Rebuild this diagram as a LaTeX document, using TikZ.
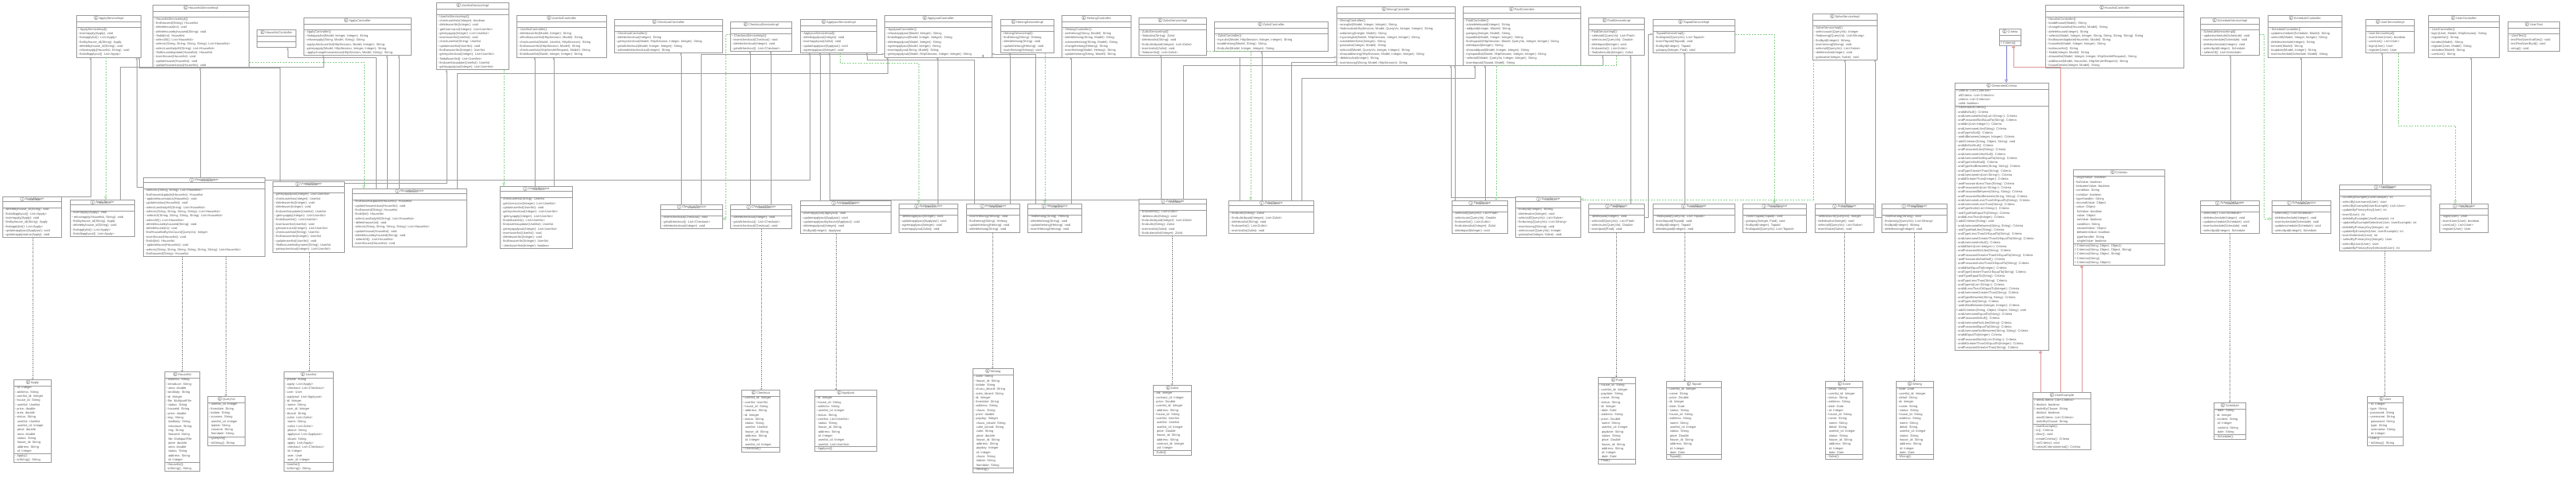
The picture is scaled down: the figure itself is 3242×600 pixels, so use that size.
\documentclass[tikz,border=0pt]{standalone}
\usepackage{fontspec}
\setmainfont{Liberation Sans}
\newfontfamily\iconfont{DejaVu Sans}
\usetikzlibrary{shapes.multipart,arrows.meta}

\definecolor{boxgray}{HTML}{9C9C9C}
\definecolor{txtgray}{HTML}{5E5E5E}
\definecolor{linegray}{HTML}{A0A0A0}
\definecolor{depgray}{HTML}{8A8A8A}
\definecolor{realgreen}{HTML}{8CD08C}
\definecolor{inhblue}{HTML}{8080D8}
\definecolor{nestred}{HTML}{DA9A9A}

\newcommand{\umlfont}{\fontsize{4}{5.3}\selectfont}
\newcommand{\cicon}[1]{\ooalign{$\vcenter{\hbox{\iconfont\fontsize{6.6}{6.6}\selectfont ○}}$\cr\hfil$\vcenter{\hbox{\fontsize{3.7}{3.7}\selectfont\bfseries #1}}$\hfil\cr}}
\newcommand{\ctitle}[1]{\cicon{C}\,#1\rule[-1.5pt]{0pt}{5.5pt}}
\newcommand{\ititle}[1]{\cicon{I}\,\begin{tabular}{@{}c@{}}{\fontsize{3.2}{3.6}\selectfont «interface»}\\[-1.8pt]\textit{#1}\end{tabular}}
\newcommand{\vpk}{\textasciitilde\,}
\newcommand{\idt}{\hspace*{3pt}}

\tikzset{
  aggtip/.tip={Diamond[open,length=3.6pt,width=2.6pt]},
  realtip/.tip={Triangle[open,length=3.6pt,width=3.6pt]},
  deptip/.tip={Straight Barb[length=1.4pt,width=2.4pt]},
  inhtip/.tip={Triangle[open,length=4pt,width=4pt]},
  umlclass/.style={rectangle split, rectangle split parts=3, draw=boxgray,
    line width=0.5pt, text=txtgray, font=\umlfont, anchor=north west,
    align=left, inner xsep=1.5pt, inner ysep=0.8pt, fill=white,
    rectangle split part align={center,left,left},
    rectangle split empty part height=0pt, rectangle split empty part depth=0pt,
    rectangle split empty part width=0pt},
  agg/.style={draw=linegray, line width=0.5pt, aggtip-},
  real/.style={draw=realgreen, line width=0.5pt, dash pattern=on 2pt off 1.5pt, -realtip},
  dep/.style={draw=depgray, line width=0.4pt, dash pattern=on 1.5pt off 1pt, -deptip},
  inh/.style={draw=inhblue, line width=0.6pt, -inhtip},
  nest/.style={draw=nestred, line width=0.6pt},
  nestmark/.style={circle, draw=nestred, line width=0.5pt, fill=white, inner sep=0pt,
    minimum size=3.6pt, anchor=north,
    path picture={\draw[nestred, line width=0.45pt]
      (path picture bounding box.north) -- (path picture bounding box.south)
      (path picture bounding box.west) -- (path picture bounding box.east);}}
}

\begin{document}
\begin{tikzpicture}[x=1pt,y=-1pt]
  \useasboundingbox (0,0) rectangle (3242,600);

  \begin{scope}[every node/.style={umlclass}]
    % controllers and service implementations
    \node[minimum width=81] (ApplyServiceImpl) at (96,19) {\ctitle{ApplyServiceImpl}\nodepart{two}\nodepart{three}\vpk ApplyServiceImpl():\\◦ insertapply(Apply): void\\◦ findapplylist(): List<Apply>\\◦ findbyhouse\_id(String): Apply\\◦ deletebyhouse\_id(String): void\\◦ refuseapply(Houselist, String): void\\◦ findallapplyout(): List<Apply>};
    \node[minimum width=121] (HouselistServiceImpl) at (192,6) {\ctitle{HouselistServiceImpl}\nodepart{two}\nodepart{three}◦ HouselistServiceImpl():\\◦ findhouseid(String): Houselist\\◦ deletehouse(int): void\\◦ deletehousebyhouseid(String): void\\\vpk findid(int): Houselist\\◦ selectAll(): List<Houselist>\\◦ selects(String, String, String, String): List<Houselist>\\◦ selectLandladyAll(String): List<Houselist>\\\vpk findhouseidupdate(Houselist): Houselist\\◦ inserthouse(Houselist): void\\◦ updatehouse(Houselist): void\\◦ updatehousestatus(Houselist): void};
    \node[minimum width=49] (HouselistController) at (323,37) {\ctitle{HouselistController}\nodepart{two}\nodepart{three}};
    \node[minimum width=135] (ApplyController) at (382,22) {\ctitle{ApplyController}\nodepart{two}\nodepart{three}◦ ApplyController():\\\vpk findapplylist(Model, Integer, Integer): String\\◦ refuseapply(String, Model, String): String\\◦ applycheckuserlist(HttpSession, Model, Integer): String\\◦ getmyapply(Model, HttpSession, Integer, Integer): String\\\vpk applychangehousestatus(HttpSession, Model, String): String};
    \node[minimum width=91] (UserlistServiceImpl) at (549,3) {\ctitle{UserlistServiceImpl}\nodepart{two}\nodepart{three}◦ UserlistServiceImpl():\\◦ checkuserlists(Integer): boolean\\◦ deleteuserlist(Integer): void\\\vpk getUserzuList(Integer): List<Userlist>\\◦ getmyapply(Integer): List<Userlist>\\◦ insertuserlist(Userlist): void\\◦ checkuserlist(String): Userlist\\◦ updateuserlist(Userlist): void\\◦ findhasuserlist(Integer): Userlist\\◦ getmycheckout(Integer): List<Userlist>\\\vpk findalluserlist(): List<Userlist>\\◦ finduserlistupdate(Userlist): Userlist\\◦ getmyapplyout(Integer): List<Userlist>};
    \node[minimum width=113] (UserlistController) at (650,19) {\ctitle{UserlistController}\nodepart{two}\nodepart{three}\vpk UserlistController():\\◦ deleteuserlist(Model, Integer): String\\◦ alfindhasuserlist(HttpSession, Model): String\\◦ checkuserlist(Model, Userlist, HttpSession): String\\◦ findhasuserlist(HttpSession, Model): String\\◦ checkuserlists(HttpServletRequest, Model): String\\◦ findalluserlist(Model, Integer, Integer): String};
    \node[minimum width=136] (CheckoutController) at (773,24) {\ctitle{CheckoutController}\nodepart{two}\nodepart{three}◦ CheckoutController():\\◦ deletecheckout(Integer): String\\◦ getmycheckout(Model, HttpSession, Integer, Integer): String\\◦ getallcheckout(Model, Integer, Integer): String\\◦ admindeletecheckout(Integer): String};
    \node[minimum width=77] (CheckoutServiceImpl) at (919,27) {\ctitle{CheckoutServiceImpl}\nodepart{two}\nodepart{three}\vpk CheckoutServiceImpl():\\◦ insertcheckout(Checkout): void\\◦ deletecheckout(Integer): void\\◦ getallcheckout(): List<Checkout>};
    \node[minimum width=96] (ApplyoutServiceImpl) at (1007,24) {\ctitle{ApplyoutServiceImpl}\nodepart{two}\nodepart{three}◦ ApplyoutServiceImpl():\\◦ deleteapplyout(Integer): void\\◦ insertapplyout(Zulist): void\\◦ updateapplyout(Applyout): void\\◦ agreeapplyout(Integer): void};
    \node[minimum width=135] (ApplyoutController) at (1113,19) {\ctitle{ApplyoutController}\nodepart{two}\nodepart{three}\vpk ApplyoutController():\\◦ refuseapplyout(Model, Integer): String\\◦ findallapplyout(Model, Integer, Integer): String\\◦ deleteapplyout(Model, Integer): String\\◦ agreeapplyout(Model, Integer): String\\◦ insertapplyout(String, Model): String\\◦ getmyapplyout(Model, HttpSession, Integer, Integer): String};
    \node[minimum width=67] (HetongServiceImpl) at (1259,24) {\ctitle{HetongServiceImpl}\nodepart{two}\nodepart{three}◦ HetongServiceImpl():\\◦ findhetong(String): Hetong\\◦ deletehetong(String): void\\◦ updatehetong(Hetong): void\\◦ inserthetong(Hetong): void};
    \node[minimum width=87] (HetongController) at (1336,19) {\ctitle{HetongController}\nodepart{two}\nodepart{three}\vpk HetongController():\\◦ seehetong(String, Model): String\\◦ deletehetong(String, Model): String\\◦ zukeseehetong(String, Model): String\\◦ changehetong(Hetong): String\\◦ inserthetong(Model, Hetong): String\\◦ updatehetong(String, Model): String};
    \node[minimum width=85] (ZulistServiceImpl) at (1433,22) {\ctitle{ZulistServiceImpl}\nodepart{two}\nodepart{three}◦ ZulistServiceImpl():\\\vpk findzulist(String): Zulist\\◦ deletezulist(String): void\\◦ findzulistbyuid(Integer): List<Zulist>\\◦ insertzulist(Zulist): void\\\vpk finduserlist(): List<Zulist>};
    \node[minimum width=143] (ZulistController) at (1528,27) {\ctitle{ZulistController}\nodepart{two}\nodepart{three}\vpk ZulistController():\\◦ myzulist(Model, HttpSession, Integer, Integer): String\\◦ toaddhetong(Model, String): String\\◦ findzulist(Model, Integer, Integer): String};
    \node[minimum width=149] (WrongController) at (1682,8) {\ctitle{WrongController}\nodepart{two}\nodepart{three}◦ WrongController():\\◦ wronglist(Model, Integer, Integer): String\\\vpk findresolve(HttpSession, Model, QueryVo, Integer, Integer): String\\◦ addwrong(Integer, Model): String\\◦ mywronglist(Model, HttpSession, Integer, Integer): String\\◦ zukedeleteSolve(Integer): String\\◦ gotosolve(Integer, Model): String\\◦ selectall(Model, QueryVo, Integer, Integer): String\\◦ showaddwrong(HttpSession, Model, Integer, Integer): String\\\vpk deletesolve(Integer): String\\◦ insertwrong(Wrong, Model, HttpSession): String};
    \node[minimum width=148] (PaidController) at (1841,8) {\ctitle{PaidController}\nodepart{two}\nodepart{three}◦ PaidController():\\◦ zukedeletepaid(Integer): String\\\vpk addpaid(Integer, Model): String\\◦ gotopay(Integer, Model): String\\◦ topaidlist(Model, Integer, Integer): String\\◦ findmypaid(HttpSession, Model, QueryVo, Integer, Integer): String\\◦ deletepaid(Integer): String\\◦ showaddpaid(Model, Integer, Integer): String\\◦ mytopaidlist(Model, HttpSession, Integer, Integer): String\\\vpk selectall(Model, QueryVo, Integer, Integer): String\\◦ inserttopaid(Topaid, Model): String};
    \node[minimum width=70] (PaidServiceImpl) at (1999,22) {\ctitle{PaidServiceImpl}\nodepart{two}\nodepart{three}◦ PaidServiceImpl():\\\vpk selectall(QueryVo): List<Paid>\\◦ selectsum(QueryVo): Double\\◦ deletepaid(Integer): void\\◦ finduserlist(): List<Zulist>\\\vpk findzukezulist(Integer): Zulist};
    \node[minimum width=103] (TopaidServiceImpl) at (2080,24) {\ctitle{TopaidServiceImpl}\nodepart{two}\nodepart{three}◦ TopaidServiceImpl():\\◦ findtopaid(QueryVo): List<Topaid>\\◦ insertTopaid(Topaid): void\\◦ findbyid(Integer): Topaid\\◦ gotopay(Integer, Paid): void};
    \node[minimum width=81] (SolveServiceImpl) at (2281,17) {\ctitle{SolveServiceImpl}\nodepart{two}\nodepart{three}◦ SolveServiceImpl():\\◦ selectcount(QueryVo): Integer\\\vpk findwrong(QueryVo): List<Wrong>\\◦ findbyid(Integer): Wrong\\◦ insertwrong(Wrong): void\\◦ selectall(QueryVo): List<Solve>\\\vpk deletesolve(Integer): void\\◦ gotosolve(Integer, Solve): void};
    \node[minimum width=27] (Criteria) at (2516,36) {\ctitle{Criteria}\nodepart{two}\nodepart{three}◊ Criteria():};
    \node[minimum width=174] (HouslistController) at (2574,6) {\ctitle{HouslistController}\nodepart{two}\nodepart{three}◦ HouslistController():\\◦ toaddhouse(Model): String\\◦ changehouselist(Houselist, Model): String\\◦ deletehouse(Integer): String\\\vpk selects(Model, Integer, Integer, String, String, String, String): String\\◦ findhouseidupdate(Houselist, Model): String\\◦ houselist(Model, Integer, Integer): String\\◦ toahouselist(): String\\\vpk findid(Integer, Model): String\\◦ ahouselist(Model, Integer, Integer, HttpServletRequest): String\\◦ addhouse(Model, Houselist, HttpServletRequest): String\\◦ houseDetails(Integer, Model): String};
    \node[minimum width=74] (ScheduleServiceImpl) at (2769,22) {\ctitle{ScheduleServiceImpl}\nodepart{two}\nodepart{three}◦ ScheduleServiceImpl():\\\vpk updateschedule(Schedule): void\\◦ insertschedule(Schedule): void\\◦ deleteschedule(Integer): void\\◦ selectbyid(Integer): Schedule\\\vpk selectAll(): List<Schedule>};
    \node[minimum width=93] (ScheduleController) at (2854,19) {\ctitle{ScheduleController}\nodepart{two}\nodepart{three}\vpk ScheduleController()\\◦ updateschedule(Schedule, Model): String\\◦ selectAll(Model, Integer, Integer): String\\◦ deleteschedule(Integer): String\\◦ toinsert(Model): String\\◦ toupdate(Model, Integer): String\\◦ insertschedule(Schedule, Model): String};
    \node[minimum width=61] (UserServiceImpl) at (2977,24) {\ctitle{UserServiceImpl}\nodepart{two}\nodepart{three}◦ UserServiceImpl():\\◦ insertUser(User): boolean\\◦ userList(): List<User>\\◦ login(User): User\\◦ register(User): User};
    \node[minimum width=89] (UserController) at (3056,19) {\ctitle{UserController}\nodepart{two}\nodepart{three}\vpk UserController():\\◦ login(User, Model, HttpSession): String\\◦ registerlist(): String\\◦ toindex(Model): String\\◦ register(User, Model): String\\◦ atoindex(Model): String\\◦ userList(): String};
    \node[minimum width=65] (UserTest) at (3156,27) {\ctitle{UserTest}\nodepart{two}\nodepart{three}\vpk UserTest():\\◦ testFindUserAndSex(): void\\◦ testFindUserById(): void\\◦ setup(): void};

    % example criteria
    \node[minimum width=118] (GeneratedCriteria) at (2460,104) {\ctitle{GeneratedCriteria}\nodepart{two}◊ criteria: List<Criterion>\\\idt allCriteria: List<Criterion>\\\idt criteria: List<Criterion>\\\idt valid: boolean\nodepart{three}◊ GeneratedCriteria():\\◦ andIdIsNull(): Criteria\\◦ andUsernameNotIn(List<String>): Criteria\\◦ andPasswordNotEqualTo(String): Criteria\\◦ andIdIn(List<Integer>): Criteria\\◦ andUsernameLike(String): Criteria\\◦ andTypeIsNull(): Criteria\\\vpk andIdBetween(Integer, Integer): Criteria\\◊ addCriterion(String, Object, String): void\\◦ andIdIsNotNull(): Criteria\\◦ andPasswordLike(String): Criteria\\◦ andUsernameIsNotNull(): Criteria\\◦ andUsernameNotEqualTo(String): Criteria\\◦ andTypeIsNotNull(): Criteria\\◦ andTypeNotBetween(String, String): Criteria\\◦ andTypeGreaterThan(String): Criteria\\◦ andUsernameIn(List<String>): Criteria\\◦ andIdGreaterThan(Integer): Criteria\\\vpk andPasswordLessThan(String): Criteria\\◦ andPasswordIn(List<String>): Criteria\\◦ andPasswordBetween(String, String): Criteria\\◦ andPasswordNotBetween(String, String): Criteria\\◦ andUsernameLessThanOrEqualTo(String): Criteria\\◦ andUsernameLessThan(String): Criteria\\◦ andTypeNotIn(List<String>): Criteria\\\vpk andTypeNotEqualTo(String): Criteria\\◦ andIdLessThan(Integer): Criteria\\◊ addCriterion(String): void\\◦ andUsernameBetween(String, String): Criteria\\\vpk andTypeNotLike(String): Criteria\\◦ andTypeLessThanOrEqualTo(String): Criteria\\◦ andUsernameGreaterThanOrEqualTo(String): Criteria\\◦ andUsernameIsNull(): Criteria\\◦ andIdNotIn(List<Integer>): Criteria\\◦ andPasswordNotLike(String): Criteria\\◦ andPasswordGreaterThanOrEqualTo(String): Criteria\\\vpk andPasswordIsNotNull(): Criteria\\◦ andPasswordLessThanOrEqualTo(String): Criteria\\◦ andIdNotEqualTo(Integer): Criteria\\◦ andTypeGreaterThanOrEqualTo(String): Criteria\\\vpk andTypeEqualTo(String): Criteria\\◦ andTypeLessThan(String): Criteria\\◦ andTypeIn(List<String>): Criteria\\◦ andIdLessThanOrEqualTo(Integer): Criteria\\◦ andUsernameGreaterThan(String): Criteria\\◦ andTypeBetween(String, String): Criteria\\◦ andTypeLike(String): Criteria\\\vpk andIdNotBetween(Integer, Integer): Criteria\\◊ addCriterion(String, Object, Object, String): void\\◦ andUsernameEqualTo(String): Criteria\\◦ andPasswordIsNull(): Criteria\\◦ andUsernameNotLike(String): Criteria\\◦ andPasswordEqualTo(String): Criteria\\◦ andUsernameNotBetween(String, String): Criteria\\◦ andIdEqualTo(Integer): Criteria\\◦ andPasswordNotIn(List<String>): Criteria\\◦ andIdGreaterThanOrEqualTo(Integer): Criteria\\◦ andPasswordGreaterThan(String): Criteria};
    \node[minimum width=115] (Criterion) at (2609,213) {\ctitle{Criterion}\nodepart{two}▫ singleValue: boolean\\▫ listValue: boolean\\▫ betweenValue: boolean\\▫ condition: String\\▫ noValue: boolean\\▫ typeHandler: String\\▫ secondValue: Object\\▫ value: Object\\\idt listValue: boolean\\\idt value: Object\\\idt noValue: boolean\\\idt condition: String\\\idt secondValue: Object\\\idt betweenValue: boolean\\\idt typeHandler: String\\\idt singleValue: boolean\nodepart{three}◊ Criterion(String, Object, Object):\\◊ Criterion(String, Object, Object, String):\\◊ Criterion(String, Object, String):\\◊ Criterion(String):\\◊ Criterion(String, Object):};
    \node[minimum width=73] (UserExample) at (2558,493) {\ctitle{UserExample}\nodepart{two}◊ oredCriteria: List<Criteria>\\◊ distinct: boolean\\◊ orderByClause: String\\\idt distinct: boolean\\\idt oredCriteria: List<Criteria>\\\idt orderByClause: String\nodepart{three}◦ UserExample():\\◦ or(): Criteria\\◦ clear(): void\\◦ createCriteria(): Criteria\\\vpk or(Criteria): void\\◊ createCriteriaInternal(): Criteria};

    % mapper and service interfaces
    \node[minimum width=74] (ApplyMapper) at (3,247) {\ititle{ApplyMapper}\nodepart{two}\nodepart{three}◦ deletebyhouse\_id(String): void\\◦ findallapplyout(): List<Apply>\\◦ insertapply(Apply): void\\◦ findbyhouse\_id(String): Apply\\◦ findapplylist(): List<Apply>\\◦ updateapplyout(Applyout): void\\◦ updateapplystatus(Apply): void};
    \node[minimum width=81] (ApplyService) at (88,251) {\ititle{ApplyService}\nodepart{two}\nodepart{three}◦ insertapply(Apply): void\\\vpk refuseapply(Houselist, String): void\\◦ findbyhouse\_id(String): Apply\\◦ deletebyhouse\_id(String): void\\◦ findapplylist(): List<Apply>\\◦ findallapplyout(): List<Apply>};
    \node[minimum width=153] (HouselistMapper) at (180,223) {\ititle{HouselistMapper}\nodepart{two}\nodepart{three}◦ selects1(String, String): List<Houselist>\\◦ findhouseidupdate(Houselist): Houselist\\\vpk updatehousestatus(Houselist): void\\◦ updatestatus(Houselist): void\\◦ selectLandladyAll(String): List<Houselist>\\◦ selects(String, String, String, String): List<Houselist>\\\vpk selects3(String, String, String, String): List<Houselist>\\◦ selectAll(): List<Houselist>\\◦ deletehousebyhouseid(String): void\\◦ deletehouse(int): void\\◦ findHouselistByVisCount(QueryVo): Integer\\◦ inserthouse(Houselist): void\\◦ findid(int): Houselist\\\vpk updatehouse(Houselist): void\\◦ selects(String, String, String, String, String, String): List<Houselist>\\◦ findhouseid(String): Houselist};
    \node[minimum width=90] (UserlistMapper) at (343,228) {\ititle{UserlistMapper}\nodepart{two}\nodepart{three}◦ getmyapplyout(Integer): List<Userlist>\\◦ checkuserlists(Integer): Userlist\\◦ deleteuserlist(Integer): void\\◦ deleteuser(Integer): void\\◦ finduserlistupdate(Userlist): Userlist\\\vpk getmyapply(Integer): List<Userlist>\\◦ findalluserlist(): List<Userlist>\\◦ insertuserlist(Userlist): void\\◦ getuserzuList(Integer): List<Userlist>\\◦ checkuserlistd(String): Userlist\\◦ findhasuserlist(Integer): Userlist\\◦ updateuserlist(Userlist): void\\\vpk findhasuserlistbyname(String): Userlist\\◦ getmycheckout(Integer): List<Userlist>};
    \node[minimum width=144] (HouselistService) at (443,237) {\ititle{HouselistService}\nodepart{two}\nodepart{three}◦ findhouseidupdate(Houselist): Houselist\\◦ updatehousestatus(Houselist): void\\◦ findhouseid(String): Houselist\\◦ findid(int): Houselist\\◦ selectLandladyAll(String): List<Houselist>\\\vpk deletehouse(int): void\\◦ selects(String, String, String, String): List<Houselist>\\◦ updatehouse(Houselist): void\\◦ deletehousebyhouseid(String): void\\\vpk selectAll(): List<Houselist>\\◦ inserthouse(Houselist): void};
    \node[minimum width=91] (UserlistService) at (629,234) {\ititle{UserlistService}\nodepart{two}\nodepart{three}◦ checkuserlist(String): Userlist\\◦ getUserzuList(Integer): List<Userlist>\\◦ updateuserlist(Userlist): void\\◦ getmycheckout(Integer): List<Userlist>\\\vpk getmyapply(Integer): List<Userlist>\\◦ findalluserlist(): List<Userlist>\\◦ finduserlistupdate(Userlist): Userlist\\◦ getmyapplyout(Integer): List<Userlist>\\◦ insertuserlist(Userlist): void\\◦ deleteuserlist(Integer): void\\◦ findhasuserlist(Integer): Userlist\\\vpk checkuserlists(Integer): boolean};
    \node[minimum width=78] (CheckoutService) at (831,257) {\ititle{CheckoutService}\nodepart{two}\nodepart{three}◦ insertcheckout(Checkout): void\\◦ getallcheckout(): List<Checkout>\\◦ deletecheckout(Integer): void};
    \node[minimum width=77] (CheckoutMapper) at (919,257) {\ititle{CheckoutMapper}\nodepart{two}\nodepart{three}◦ deletecheckout(Integer): void\\◦ getallcheckout(): List<Checkout>\\◦ insertcheckout(Checkout): void};
    \node[minimum width=114] (ApplyoutMapper) at (1007,252) {\ititle{ApplyoutMapper}\nodepart{two}\nodepart{three}◦ insertapplyout(Applyout): void\\◦ updateapplyout(Applyout): void\\◦ updateapplyoutbyhouse(Applyout): void\\◦ deleteapplyout(Integer): void\\◦ findbyid(Integer): Applyout};
    \node[minimum width=74] (ApplyoutService) at (1131,256) {\ititle{ApplyoutService}\nodepart{two}\nodepart{three}\vpk deleteapplyout(Integer): void\\◦ updateapplyout(Applyout): void\\◦ agreeapplyout(Integer): void\\◦ insertapplyout(Zulist): void};
    \node[minimum width=67] (HetongMapper) at (1216,256) {\ititle{HetongMapper}\nodepart{two}\nodepart{three}◦ insertHetong(Hetong): void\\◦ findhetong(String): Hetong\\◦ updatehetong(Hetong): void\\◦ deletehetong(String): void};
    \node[minimum width=68] (HetongService) at (1293,256) {\ititle{HetongService}\nodepart{two}\nodepart{three}\vpk findhetong(String): Hetong\\◦ deletehetong(String): void\\◦ updatehetong(Hetong): void\\◦ insertHetong(Hetong): void};
    \node[minimum width=85] (ZulistMapper) at (1433,250) {\ititle{ZulistMapper}\nodepart{two}\nodepart{three}◦ finduserlist(): List<Zulist>\\\vpk deletezulist(String): void\\◦ findzulistbyuid(Integer): List<Zulist>\\◦ findzulist(String): Zulist\\◦ insertzulist(Zulist): void\\◦ findzukezulist(Integer): Zulist};
    \node[minimum width=107] (ZulistService) at (1546,252) {\ititle{ZulistService}\nodepart{two}\nodepart{three}◦ findzulist(String): Zulist\\◦ findzulistbyuid(Integer): List<Zulist>\\◦ deletezulist(String): void\\◦ finduserlist(): List<Zulist>\\◦ insertzulist(Zulist): void};
    \node[minimum width=70] (PaidService) at (1827,252) {\ititle{PaidService}\nodepart{two}\nodepart{three}◦ selectall(QueryVo): List<Paid>\\◦ selectsum(QueryVo): Double\\◦ finduserlist(): List<Zulist>\\◦ findzukezulist(Integer): Zulist\\◦ deletepaid(Integer): void};
    \node[minimum width=82] (SolveService) at (1907,247) {\ititle{SolveService}\nodepart{two}\nodepart{three}◦ findbyid(Integer): Wrong\\◦ deletesolve(Integer): void\\◦ selectall(QueryVo): List<Solve>\\◦ findwrong(QueryVo): List<Wrong>\\◦ insertwrong(Wrong): void\\◦ selectcount(QueryVo): Integer\\◦ gotosolve(Integer, Solve): void};
    \node[minimum width=70] (PaidMapper) at (1999,256) {\ititle{PaidMapper}\nodepart{two}\nodepart{three}\vpk deletepaid(Integer): void\\◦ selectall(QueryVo): List<Paid>\\◦ selectsum(QueryVo): Double\\◦ insertpaid(Paid): void};
    \node[minimum width=103] (TopaidMapper) at (2080,256) {\ititle{TopaidMapper}\nodepart{two}\nodepart{three}\vpk findtopaid(QueryVo): List<Topaid>\\◦ inserttopaid(Topaid): void\\◦ findbyid(Integer): Topaid\\◦ deletetopaid(Integer): void};
    \node[minimum width=80] (TopaidService) at (2193,256) {\ititle{TopaidService}\nodepart{two}\nodepart{three}\vpk insertTopaid(Topaid): void\\◦ gotopay(Integer, Paid): void\\◦ findbyid(Integer): Topaid\\◦ findtopaid(QueryVo): List<Topaid>};
    \node[minimum width=74] (SolveMapper) at (2284,256) {\ititle{SolveMapper}\nodepart{two}\nodepart{three}\vpk selectcount(QueryVo): Integer\\◦ deletesolve(Integer): void\\◦ selectall(QueryVo): List<Solve>\\◦ insertSolve(Solve): void};
    \node[minimum width=82] (WrongMapper) at (2368,256) {\ititle{WrongMapper}\nodepart{two}\nodepart{three}\vpk insertwrong(Wrong): void\\◦ findwrong(QueryVo): List<Wrong>\\◦ findbyid(Integer): Wrong\\◦ deletewrong(Integer): void};
    \node[minimum width=74] (ScheduleMapper) at (2769,252) {\ititle{ScheduleMapper}\nodepart{two}\nodepart{three}◦ selectAll(): List<Schedule>\\◦ deleteschedule(Integer): void\\◦ updateschedule(Schedule): void\\◦ insertschedule(Schedule): void\\◦ selectbyid(Integer): Schedule};
    \node[minimum width=74] (ScheduleService) at (2859,252) {\ititle{ScheduleService}\nodepart{two}\nodepart{three}◦ selectAll(): List<Schedule>\\◦ deleteschedule(Integer): void\\◦ insertschedule(Schedule): void\\◦ updateschedule(Schedule): void\\◦ selectbyid(Integer): Schedule};
    \node[minimum width=115] (UserMapper) at (2944,232) {\ititle{UserMapper}\nodepart{two}\nodepart{three}◦ countByExample(UserExample): int\\◦ selectByUsername(User): User\\◦ selectByExample(UserExample): List<User>\\◦ updateByPrimaryKey(User): int\\◦ insert(User): int\\◦ deleteByExample(UserExample): int\\\vpk updateByExampleSelective(User, UserExample): int\\◦ deleteByPrimaryKey(Integer): int\\◦ updateByExample(User, UserExample): int\\◦ insertSelective(User): int\\\vpk selectByPrimaryKey(Integer): User\\◦ selectByUser(User): User\\◦ updateByPrimaryKeySelective(User): int};
    \node[minimum width=61] (UserService) at (3070,256) {\ititle{UserService}\nodepart{two}\nodepart{three}\vpk login(User): User\\◦ insertUser(User): boolean\\◦ userList(): List<User>\\◦ register(User): User};

    % entities
    \node[minimum width=47] (Apply) at (17,477) {\ctitle{Apply}\nodepart{two}\vpk id: Integer\\▫ address: String\\▫ userlist\_id: Integer\\▫ house\_id: String\\\vpk userlist: Userlist\\▫ price: double\\▫ area: double\\▫ status: String\\\idt userlist: Userlist\\\idt userlist\_id: Integer\\\idt price: double\\\idt area: double\\\idt status: String\\\idt house\_id: String\\\idt address: String\\\idt id: Integer\nodepart{three}◦ Apply():\\◦ toString(): String};
    \node[minimum width=44] (Houselist) at (207,467) {\ctitle{Houselist}\nodepart{two}▫ address: String\\▫ introduce: String\\\vpk area: double\\▫ landlady: String\\▫ id: Integer\\▫ file: MultipartFile\\\vpk status: String\\▫ houseid: String\\▫ price: double\\▫ img: String\\\idt landlady: String\\\idt introduce: String\\\idt img: String\\\idt houseid: String\\\idt file: MultipartFile\\\idt price: double\\\idt area: double\\\idt status: String\\\idt address: String\\\idt id: Integer\nodepart{three}◦ Houselist():\\◦ toString(): String};
    \node[minimum width=47] (QueryVo) at (261,498) {\ctitle{QueryVo}\nodepart{two}\vpk userlist\_id: Integer\\▫ fromdate: String\\▫ todate: String\\▫ zuname: String\\\idt userlist\_id: Integer\\\idt todate: String\\\idt zuname: String\\\idt fromdate: String\nodepart{three}◦ QueryVo():\\\vpk toString(): String};
    \node[minimum width=62] (Userlist) at (357,467) {\ctitle{Userlist}\nodepart{two}▫ phone: String\\▫ apply: List<Apply>\\\vpk checkout: List<Checkout>\\▫ user: User\\▫ applyout: List<Applyout>\\▫ id: Integer\\\vpk name: String\\▫ user\_id: Integer\\▫ idcard: String\\▫ zulist: List<Zulist>\\\idt name: String\\\idt zulist: List<Zulist>\\\idt phone: String\\\idt applyout: List<Applyout>\\\idt idcard: String\\\idt apply: List<Apply>\\\idt checkout: List<Checkout>\\\idt id: Integer\\\idt user: User\\\idt user\_id: Integer\nodepart{three}◦ Userlist():\\◦ toString(): String};
    \node[minimum width=48] (Checkout) at (933,490) {\ctitle{Checkout}\nodepart{two}▫ userlist\_id: Integer\\▫ userlist: Userlist\\▫ house\_id: String\\\vpk address: String\\▫ id: Integer\\▫ status: String\\\idt status: String\\\idt userlist: Userlist\\\idt house\_id: String\\\idt address: String\\\idt id: Integer\\\idt userlist\_id: Integer\nodepart{three}◦ Checkout():};
    \node[minimum width=78] (Applyout) at (1025,490) {\ctitle{Applyout}\nodepart{two}▫ id: Integer\\▫ house\_id: String\\▫ address: String\\\vpk userlist\_id: Integer\\▫ status: String\\▫ userlist: List<Userlist>\\\idt status: String\\\idt house\_id: String\\\idt address: String\\\idt id: Integer\\\idt userlist\_id: Integer\\\idt userlist: List<Userlist>\nodepart{three}◦ Applyout():};
    \node[minimum width=51] (Hetong) at (1224,463) {\ctitle{Hetong}\nodepart{two}▫ zuke: String\\\vpk house\_id: String\\▫ todate: String\\▫ chuzu\_idcard: String\\▫ zuke\_idcard: String\\▫ id: Integer\\▫ fromdate: String\\▫ address: String\\\vpk chuzu: String\\▫ price: double\\▫ payday: Integer\\\idt chuzu\_idcard: String\\\idt zuke\_idcard: String\\\idt zuke: String\\\idt price: double\\\idt house\_id: String\\\idt address: String\\\idt payday: Integer\\\idt id: Integer\\\idt chuzu: String\\\idt todate: String\\\idt fromdate: String\nodepart{three}◦ Hetong():};
    \node[minimum width=48] (Zulist) at (1451,484) {\ctitle{Zulist}\nodepart{two}▫ zid: Integer\\▫ contract\_id: Integer\\▫ price: Double\\▫ userlist\_id: Integer\\\vpk address: String\\▫ house\_id: String\\▫ userlist: Userlist\\\idt userlist: Userlist\\\idt userlist\_id: Integer\\\idt price: Double\\\idt house\_id: String\\\idt address: String\\\idt contract\_id: Integer\\\idt zid: Integer\nodepart{three}◦ Zulist():};
    \node[minimum width=47] (Paid) at (2011,474) {\ctitle{Paid}\nodepart{two}▫ house\_id: String\\▫ userlist\_id: Integer\\▫ paydate: String\\▫ name: String\\▫ status: String\\▫ id: Integer\\\vpk date: Date\\▫ address: String\\▫ price: Double\\\idt name: String\\\idt userlist\_id: Integer\\\idt paydate: String\\\idt status: String\\\idt price: Double\\\idt house\_id: String\\\idt address: String\\\idt id: Integer\\\idt date: Date\nodepart{three}◦ Paid():};
    \node[minimum width=69] (Topaid) at (2097,479) {\ctitle{Topaid}\nodepart{two}▫ userlist\_id: Integer\\▫ name: String\\▫ price: Double\\▫ id: Integer\\▫ date: Date\\\vpk status: String\\▫ house\_id: String\\▫ address: String\\\idt name: String\\\idt userlist\_id: Integer\\\idt status: String\\\idt price: Double\\\idt house\_id: String\\\idt address: String\\\idt id: Integer\\\idt date: Date\nodepart{three}◦ Topaid():};
    \node[minimum width=47] (Solve) at (2297,479) {\ctitle{Solve}\nodepart{two}▫ detail: String\\▫ userlist\_id: Integer\\▫ status: String\\▫ address: String\\▫ date: Date\\\vpk id: Integer\\▫ house\_id: String\\▫ name: String\\\idt name: String\\\idt detail: String\\\idt userlist\_id: Integer\\\idt status: String\\\idt house\_id: String\\\idt address: String\\\idt id: Integer\\\idt date: Date\nodepart{three}◦ Solve():};
    \node[minimum width=47] (Wrong) at (2386,479) {\ctitle{Wrong}\nodepart{two}▫ date: Date\\▫ userlist\_id: Integer\\▫ detail: String\\▫ id: Integer\\▫ name: String\\\vpk status: String\\▫ house\_id: String\\▫ address: String\\\idt name: String\\\idt detail: String\\\idt userlist\_id: Integer\\\idt status: String\\\idt house\_id: String\\\idt address: String\\\idt id: Integer\\\idt date: Date\nodepart{three}◦ Wrong():};
    \node[minimum width=40] (Schedule) at (2786,506) {\ctitle{Schedule}\nodepart{two}\vpk date: String\\▫ id: Integer\\▫ content: String\\\idt id: Integer\\\idt content: String\\\idt date: String\nodepart{three}\vpk Schedule():};
    \node[minimum width=45] (User) at (2979,498) {\ctitle{User}\nodepart{two}\vpk id: Integer\\▫ type: String\\▫ password: String\\▫ username: String\\\idt password: String\\\idt type: String\\\idt username: String\\\idt id: Integer\nodepart{three}◦ User():\\\vpk toString(): String};
  \end{scope}

  % aggregations
  \draw[agg] (114,0 |- ApplyServiceImpl.south) |- (ApplyMapper.north east);
  \draw[agg] (172,0 |- ApplyServiceImpl.south) |- (HouselistMapper.west |- 0,235);
  \draw[agg] (175,0 |- ApplyServiceImpl.south) -- (175,85) -| (352,0 |- UserlistMapper.north);
  \draw[agg] (252,0 |- HouselistServiceImpl.south) -- (252,0 |- HouselistMapper.north);
  \draw[agg] (362,0 |- HouselistController.south) -- (362,72) -| (473,0 |- HouselistService.north);
  \draw[agg] (407,0 |- ApplyController.south) -- (407,84) -| (151,0 |- ApplyService.north);
  \draw[agg] (487,0 |- ApplyController.south) -- (487,0 |- HouselistService.north);
  \draw[agg] (502,0 |- ApplyController.south) -- (502,0 |- HouselistService.north);
  \draw[agg] (562,0 |- UserlistServiceImpl.south) |- (UserlistMapper.east |- 0,230);
  \draw[agg] (1019,0 |- ApplyoutServiceImpl.south) |- (HouselistMapper.east |- 0,226);
  \draw[agg] (673,0 |- UserlistController.south) -- (673,0 |- UserlistService.north);
  \draw[agg] (697,0 |- UserlistController.south) -- (697,0 |- UserlistService.north);
  \draw[agg] (857,0 |- CheckoutController.south) -- (857,0 |- CheckoutService.north);
  \draw[agg] (ApplyoutController.west |- 0,68) -| (882,0 |- CheckoutService.north);
  \draw[agg] (944,0 |- CheckoutServiceImpl.south) -- (944,0 |- CheckoutMapper.north);
  \draw[agg] (970,0 |- CheckoutServiceImpl.south) -- (970,0 |- CheckoutMapper.north);
  \draw[agg] (1032,0 |- ApplyoutServiceImpl.south) -- (1032,0 |- ApplyoutMapper.north);
  \draw[agg] (1044,0 |- ApplyoutServiceImpl.south) |- (ZulistMapper.west |- 0,251);
  \draw[agg] (1091,0 |- ApplyoutServiceImpl.south) -- (1091,75) -| (1226,0 |- HetongMapper.north);
  \draw[agg] (1117,0 |- ApplyoutController.south) -- (1117,92) -| (575,0 |- HouselistService.north);
  \draw[agg] (1180,0 |- ApplyoutController.south) -- (1180,0 |- ApplyoutService.north);
  \draw[agg] (1237,0 |- ApplyoutController.south) -- (1237,72) -| (1560,0 |- ZulistService.north);
  \draw[agg] (ApplyoutController.east |- 0,68) -| (1303,0 |- HetongService.north);
  \draw[agg] (1271,0 |- HetongServiceImpl.south) -- (1271,0 |- HetongMapper.north);
  \draw[agg] (1348,0 |- HetongController.south) -- (1348,0 |- HetongService.north);
  \draw[agg] (1461,0 |- ZulistServiceImpl.south) -- (1461,0 |- ZulistMapper.north);
  \draw[agg] (1588,0 |- ZulistController.south) -- (1588,0 |- ZulistService.north);
  \draw[agg] (WrongController.west |- 0,72) -| (1560,0 |- ZulistService.north);
  \draw[agg] (WrongController.west |- 0,78) -| (1625,0 |- ZulistService.north);
  \draw[agg] (1826,0 |- WrongController.south) |- (SolveService.west |- 0,248);
  \draw[agg] (1831,0 |- WrongController.south) -- (1831,0 |- PaidService.north);
  \draw[agg] (1856,0 |- PaidController.south) -- (1856,98) -| (1638,0 |- ZulistService.north);
  \draw[agg] (1869,0 |- PaidController.south) -- (1869,0 |- PaidService.north);
  \draw[agg] (2017,0 |- PaidServiceImpl.south) -- (2017,82) -| (1489,0 |- ZulistMapper.north);
  \draw[agg] (2052,0 |- PaidServiceImpl.south) -- (2052,0 |- PaidMapper.north);
  \draw[agg] (TopaidServiceImpl.west |- 0,43) -- (2074,43) |- (PaidMapper.east |- 0,273);
  \draw[agg] (2120,0 |- TopaidServiceImpl.south) -- (2120,0 |- TopaidMapper.north);
  \draw[agg] (2322,0 |- SolveServiceImpl.south) -- (2322,0 |- SolveMapper.north);
  \draw[agg] (2360,0 |- SolveServiceImpl.south) |- (WrongMapper.west |- 0,273);
  \draw[agg] (2807,0 |- ScheduleServiceImpl.south) -- (2807,0 |- ScheduleMapper.north);
  \draw[agg] (2896,0 |- ScheduleController.south) -- (2896,0 |- ScheduleService.north);
  \draw[agg] (2998,0 |- UserServiceImpl.south) -- (2998,0 |- UserMapper.north);
  \draw[agg] (3110,0 |- UserController.south) -- (3110,0 |- UserService.north);

  % realizations
  \draw[real] (133,0 |- ApplyServiceImpl.south) -- (133,0 |- ApplyService.north);
  \draw[real] (HouselistServiceImpl.east |- 0,78) -| (458,0 |- HouselistService.north);
  \draw[real] (634,0 |- UserlistServiceImpl.south) -- (634,0 |- UserlistService.north);
  \draw[real] (CheckoutServiceImpl.west |- 0,43) -- (913,43) |- (CheckoutService.east |- 0,275);
  \draw[real] (1057,0 |- ApplyoutServiceImpl.south) -- (1057,79) -| (1156,0 |- ApplyoutService.north);
  \draw[real] (1315,0 |- HetongServiceImpl.south) -- (1315,0 |- HetongService.north);
  \draw[real] (ZulistServiceImpl.east |- 0,64) -| (1574,0 |- ZulistService.north);
  \draw[real] (2034,0 |- PaidServiceImpl.south) -- (2034,82) -| (1883,0 |- PaidService.north);
  \draw[real] (TopaidServiceImpl.east |- 0,43) -| (2233,0 |- TopaidService.north);
  \draw[real] (2282,0 |- SolveServiceImpl.south) |- (SolveService.east |- 0,251);
  \draw[real] (ScheduleServiceImpl.east |- 0,43) -- (2849,43) |- (ScheduleService.west |- 0,275);
  \draw[real] (3018,0 |- UserServiceImpl.south) -- (3018,158) -| (3090,0 |- UserService.north);

  % mapper to entity
  \draw[dep] (41,0 |- ApplyMapper.south) -- (41,0 |- Apply.north);
  \draw[dep] (229,0 |- HouselistMapper.south) -- (229,0 |- Houselist.north);
  \draw[dep] (284,0 |- HouselistMapper.south) -- (284,0 |- QueryVo.north);
  \draw[dep] (389,0 |- UserlistMapper.south) -- (389,0 |- Userlist.north);
  \draw[dep] (958,0 |- CheckoutMapper.south) -- (958,0 |- Checkout.north);
  \draw[dep] (1052,0 |- ApplyoutMapper.south) -- (1052,0 |- Applyout.north);
  \draw[dep] (1249,0 |- HetongMapper.south) -- (1249,0 |- Hetong.north);
  \draw[dep] (1475,0 |- ZulistMapper.south) -- (1475,0 |- Zulist.north);
  \draw[dep] (2034,0 |- PaidMapper.south) -- (2034,0 |- Paid.north);
  \draw[dep] (2120,0 |- TopaidMapper.south) -- (2120,0 |- Topaid.north);
  \draw[dep] (2321,0 |- SolveMapper.south) -- (2321,0 |- Solve.north);
  \draw[dep] (2409,0 |- WrongMapper.south) -- (2409,0 |- Wrong.north);
  \draw[dep] (2806,0 |- ScheduleMapper.south) -- (2806,0 |- Schedule.north);
  \draw[dep] (3001,0 |- UserMapper.south) -- (3001,0 |- User.north);

  % criteria
  \draw[inh] (2525,0 |- Criteria.south) -- (2525,0 |- GeneratedCriteria.north);
  \draw[nest] (2534,0 |- Criteria.south) -- (2534,84) -| (2593,0 |- UserExample.north);
  \draw[nest] (2568,0 |- GeneratedCriteria.south) -- (2568,0 |- UserExample.north);
  \draw[nest] (2620,0 |- Criterion.south) -- (2620,0 |- UserExample.north);
  \node[nestmark] (cpa) at (2534,0 |- Criteria.south) {};
  \node[nestmark] (cpb) at (2568,0 |- GeneratedCriteria.south) {};
  \node[nestmark] (cpc) at (2620,0 |- Criterion.south) {};

\end{tikzpicture}
\end{document}
